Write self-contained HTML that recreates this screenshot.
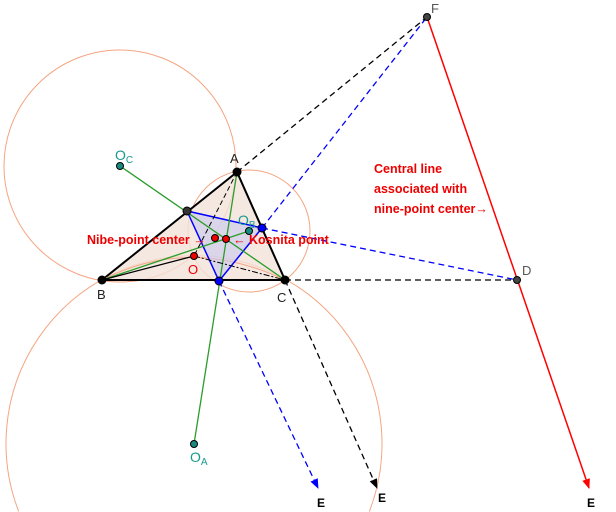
<!DOCTYPE html>
<html><head><style>html,body{margin:0;background:#fff;width:616px;height:512px;overflow:hidden}svg{display:block;overflow:hidden}</style></head><body>
<svg width="616" height="512" viewBox="0 0 616 512" xmlns="http://www.w3.org/2000/svg" font-family="Liberation Sans, sans-serif">
<defs>
<marker id="mb" markerWidth="10" markerHeight="10" refX="9" refY="4" orient="auto" markerUnits="userSpaceOnUse"><path d="M0,0 L10,4 L0,8z" fill="#0000ff"/></marker>
<marker id="mk" markerWidth="10" markerHeight="10" refX="9" refY="4" orient="auto" markerUnits="userSpaceOnUse"><path d="M0,0 L10,4 L0,8z" fill="#000"/></marker>
<marker id="mr" markerWidth="10" markerHeight="10" refX="9" refY="4" orient="auto" markerUnits="userSpaceOnUse"><path d="M0,0 L10,4 L0,8z" fill="#f00"/></marker>
</defs>
<g fill="none" stroke="#f4a582" stroke-width="1">
<circle cx="120" cy="166" r="116"/>
<circle cx="249" cy="231" r="61"/>
<path d="M18.7,511.5 A188,188 0 1 1 369.3,511.5"/>
</g>
<polygon points="237,172 102,280 285,280" fill="#f2e2da" fill-opacity="0.8" stroke="#000" stroke-width="2"/>
<path d="M102,280 Q190,235 285,280" fill="none" stroke="#f4a582" stroke-width="1"/>
<polygon points="187,211 219,281 262,228" fill="#c8c8ee" fill-opacity="0.6" stroke="#0000ff" stroke-width="1.5"/>
<g stroke="#2a9d2a" stroke-width="1.3">
<line x1="120" y1="166" x2="285" y2="280"/>
<line x1="194" y1="444" x2="237" y2="172"/>
<line x1="249" y1="231" x2="102" y2="280"/>
</g>
<line x1="102" y1="280" x2="194" y2="256" stroke="#000" stroke-width="1.2"/>
<line x1="194" y1="256" x2="285" y2="280" stroke="#000" stroke-width="1" stroke-dasharray="6,2,2,2"/>
<line x1="237" y1="172" x2="194" y2="256" stroke="#000" stroke-width="1" stroke-dasharray="5,3"/>
<g stroke="#000" stroke-width="1.3" stroke-dasharray="6,4" fill="none">
<line x1="237" y1="172" x2="427" y2="17"/>
<line x1="285" y1="280" x2="517" y2="280"/>
<line x1="285" y1="280" x2="377" y2="488" marker-end="url(#mk)"/>
</g>
<g stroke="#0000ff" stroke-width="1.3" stroke-dasharray="6,4" fill="none">
<line x1="262" y1="228" x2="427" y2="17"/>
<line x1="262" y1="228" x2="517" y2="280"/>
<line x1="219" y1="281" x2="318" y2="488" marker-end="url(#mb)"/>
</g>
<line x1="427" y1="17" x2="589" y2="488" stroke="#f00" stroke-width="1.5" marker-end="url(#mr)"/>
<g stroke="#000" stroke-width="1">
<circle cx="237" cy="172" r="4" fill="#000"/>
<circle cx="102" cy="280" r="4" fill="#000"/>
<circle cx="285" cy="280" r="4" fill="#000"/>
<circle cx="187" cy="211" r="4" fill="#333"/>
<circle cx="219" cy="281" r="4" fill="#0000ff"/>
<circle cx="262" cy="228" r="4" fill="#0000ff"/>
<circle cx="194" cy="256" r="3.5" fill="#e00"/>
<circle cx="215" cy="238" r="3.5" fill="#e00"/>
<circle cx="226" cy="239" r="3.5" fill="#e00"/>
<circle cx="120" cy="166" r="3.5" fill="#1a8a80"/>
<circle cx="194" cy="444" r="3.5" fill="#1a8a80"/>
<circle cx="249" cy="231" r="3.5" fill="#1a8a80"/>
<circle cx="427" cy="17" r="3.5" fill="#444"/>
<circle cx="517" cy="280" r="3.5" fill="#444"/>
</g>
<g font-size="13" fill="#222">
<text x="230" y="163">A</text>
<text x="97" y="299">B</text>
<text x="277" y="302">C</text>
<text x="431" y="13" fill="#555">F</text>
<text x="522" y="275" fill="#555">D</text>
<text x="188" y="274" fill="#e00">O</text>
</g>
<g font-size="14" fill="#1a9990">
<text x="115" y="160">O<tspan font-size="10" dy="3">C</tspan></text>
<text x="190" y="462">O<tspan font-size="10" dy="3">A</tspan></text>
<text x="238" y="225">O<tspan font-size="10" dy="3">B</tspan></text>
</g>
<g font-size="12.5" font-weight="bold" fill="#e00">
<text x="87" y="244">Nibe-point center →</text>
<text x="233" y="244">← Kosnita point</text>
<text x="374" y="173">Central line</text>
<text x="374" y="193">associated with</text>
<text x="374" y="213">nine-point center→</text>
</g>
<g font-size="12" font-weight="bold" fill="#000">
<text x="317" y="507">E</text>
<text x="378" y="502">E</text>
<text x="587" y="507">E</text>
</g>
</svg>
</body></html>
